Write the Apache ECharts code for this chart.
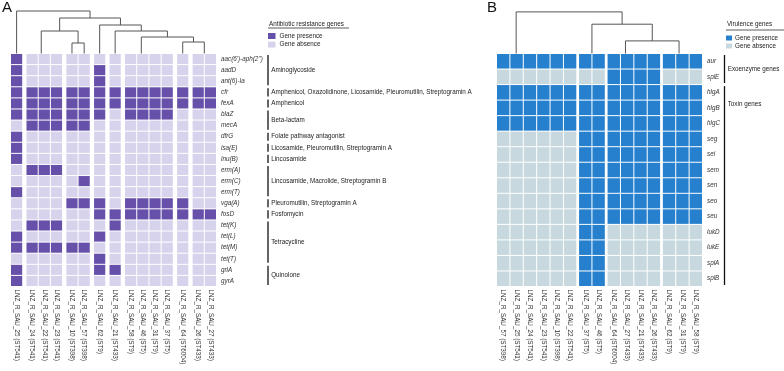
<!DOCTYPE html>
<html>
<head>
<meta charset="utf-8">
<script src="https://cdn.jsdelivr.net/npm/echarts@6/dist/echarts.min.js"></script>
<style>
  html, body { margin: 0; background: #fff; }
  #chart { width: 784px; height: 371px; }
</style>
</head>
<body>
<div id="chart"></div>
<script>
const FONT = '"Liberation Sans", Arial, sans-serif'

// ---------- panel A: antibiotic resistance genes ----------
const resStrains = [
  'LNZ_R_SAU_25 (ST541)', 'LNZ_R_SAU_24 (ST541)', 'LNZ_R_SAU_22 (ST541)', 'LNZ_R_SAU_23 (ST541)',
  'LNZ_R_SAU_10 (ST398)', 'LNZ_R_SAU_57 (ST398)', 'LNZ_R_SAU_62 (ST9)', 'LNZ_R_SAU_21 (ST433)',
  'LNZ_R_SAU_58 (ST9)', 'LNZ_R_SAU_46 (ST5)', 'LNZ_R_SAU_31 (ST9)', 'LNZ_R_SAU_37 (ST5)',
  'LNZ_R_SAU_64 (ST6004)', 'LNZ_R_SAU_26 (ST433)', 'LNZ_R_SAU_27 (ST433)'
]
const resBlocks = [1, 3, 2, 1, 1, 4, 1, 2] // strains per cluster block
const resGenes = [
  "aac(6')-aph(2'')", 'aadD', 'ant(6)-Ia', 'cfr', 'fexA', 'blaZ', 'mecA', 'dfrG', 'lsa(E)', 'lnu(B)',
  'erm(A)', 'erm(C)', 'erm(T)', 'vga(A)', 'fosD', 'tet(K)', 'tet(L)', 'tet(M)', 'tet(T)', 'grlA', 'gyrA'
]
// one string per gene, one digit per strain (1 = presence)
const resMatrix = [
  '100000000000000',
  '100000100000000',
  '100000100000000',
  '111111111111111',
  '111111111111111',
  '111111101111000',
  '011111000000000',
  '100000000000000',
  '100000000000000',
  '100000000000000',
  '011100000000000',
  '000001000000000',
  '100000000000000',
  '000011101111100',
  '000000111111111',
  '011100010000000',
  '100000100000000',
  '111111000000000',
  '000000100000000',
  '100000110000000',
  '100000000000000'
]
const resClasses = [
  'Aminoglycoside', 'Amphenicol, Oxazolidinone, Licosamide, Pleuromutilin, Streptogramin A', 'Amphenicol',
  'Beta-lactam', 'Folate pathway antagonist', 'Licosamide, Pleuromutilin, Streptogramin A', 'Lincosamide',
  'Lincosamide, Macrolide, Streptogramin B', 'Pleuromutilin, Streptogramin A', 'Fosfomycin', 'Tetracycline', 'Quinolone'
]
const resClassRows = [[0, 2], [3, 3], [4, 4], [5, 6], [7, 7], [8, 8], [9, 9], [10, 12], [13, 13], [14, 14], [15, 18], [19, 20]]
// linkage: [childA, childB, height]; leaves are 0..14, merges get ids 15, 16, ...
const resLinkage = [
  [2, 3, 0], [1, 15, 0], [10, 11, 0], [9, 17, 0], [8, 18, 0], [13, 14, 0],
  [4, 5, 10.5], [16, 21, 22.5], [12, 20, 11.5], [19, 23, 16.5], [7, 24, 22.5],
  [6, 25, 28.5], [22, 26, 35.5], [0, 27, 42.5]
]

// ---------- panel B: virulence genes ----------
const virStrains = [
  'LNZ_R_SAU_57 (ST398)', 'LNZ_R_SAU_25 (ST541)', 'LNZ_R_SAU_24 (ST541)', 'LNZ_R_SAU_23 (ST541)',
  'LNZ_R_SAU_10 (ST398)', 'LNZ_R_SAU_22 (ST541)', 'LNZ_R_SAU_37 (ST5)', 'LNZ_R_SAU_46 (ST5)',
  'LNZ_R_SAU_64 (ST6004)', 'LNZ_R_SAU_27 (ST433)', 'LNZ_R_SAU_21 (ST433)', 'LNZ_R_SAU_26 (ST433)',
  'LNZ_R_SAU_62 (ST9)', 'LNZ_R_SAU_31 (ST9)', 'LNZ_R_SAU_58 (ST9)'
]
const virBlocks = [6, 2, 4, 3]
const virGenes = ['aur', 'splE', 'hlgA', 'hlgB', 'hlgC', 'seg', 'sei', 'sem', 'sen', 'seo', 'seu', 'lukD', 'lukE', 'splA', 'splB']
const virMatrix = [
  '111111111111111',
  '000000001111000',
  '111111111111111',
  '111111111111111',
  '111111111111111',
  '000000111111111',
  '000000111111111',
  '000000111111111',
  '000000111111111',
  '000000111111111',
  '000000111111111',
  '000000110000000',
  '000000110000000',
  '000000110000000',
  '000000110000000'
]
const virClasses = ['Exoenzyme genes', 'Toxin genes']
const virClassRows = [[0, 1], [2, 14]]
const virLinkage = [
  [4, 5, 0], [3, 15, 0], [2, 16, 0], [1, 17, 0], [0, 18, 0],
  [6, 7, 0],
  [10, 11, 0], [9, 21, 0], [8, 22, 0],
  [13, 14, 0], [12, 24, 0],
  [23, 25, 12.6], [20, 26, 29.3], [19, 27, 41.6]
]

// ---------- helpers ----------
function blockCenters(blocks, gap) {
  const xs = []
  let x = 0
  blocks.forEach((n) => {
    for (let i = 0; i < n; i++) { xs.push(x + 0.5); x += 1 }
    x += gap
  })
  return { centers: xs, total: x - gap }
}

function matrixCells(matrix, centers) {
  const out = []
  matrix.forEach((row, r) => {
    row.split('').forEach((ch, c) => out.push([centers[c], r, Number(ch)]))
  })
  return out
}

function dendroSegments(linkage, centers) {
  const xs = centers.slice()
  const hs = centers.map(() => 0)
  const segs = []
  linkage.forEach(([a, b, h]) => {
    xs.push((xs[a] + xs[b]) / 2)
    hs.push(h)
    if (h > 0) segs.push({ coords: [[xs[a], hs[a]], [xs[a], h], [xs[b], h], [xs[b], hs[b]]] })
  })
  return segs
}

function renderCell(params, api) {
  const x = api.value(0)
  const r = api.value(1)
  const a = api.coord([x - 0.5, r])
  const b = api.coord([x + 0.5, r])
  const h = api.size([0, 1])[1]
  return {
    type: 'rect',
    shape: { x: a[0] + 0.5, y: a[1] - h / 2 + 0.5, width: b[0] - a[0] - 1, height: h - 1 },
    style: { fill: api.visual('color') }
  }
}

function bracketRenderer(names, lineOffset, labelTop) {
  return function (params, api) {
    const s = api.value(0)
    const e = api.value(1)
    const h = api.size([0, 1])[1]
    const top = api.coord([0, s])[1] - h / 2
    const bottom = api.coord([0, e])[1] + h / 2
    const x = params.coordSys.x + params.coordSys.width + lineOffset
    const multi = e - s > 6
    const ty = labelTop && multi ? top + h * 1.25 : (top + bottom) / 2
    return {
      type: 'group',
      children: [
        { type: 'line', shape: { x1: x, y1: top + 1.5, x2: x, y2: bottom - 1.5 }, style: { stroke: '#111', lineWidth: 1.3 } },
        { type: 'text', x: x + 3.2, y: ty, style: { text: names[params.dataIndex], fill: '#222', font: '6.3px ' + FONT, align: 'left', verticalAlign: 'middle' } }
      ]
    }
  }
}

const labelAt = (v, centers, names) => {
  const i = centers.findIndex((c) => Math.abs(c - v) < 1e-6)
  return i < 0 ? '' : names[i]
}

const A = blockCenters(resBlocks, 0.27)
const B = blockCenters(virBlocks, 0.13)

const HEAT_TOP = 53.5
const HEAT_H = 233
const gridA = { left: 10.5, width: 206 }
const gridB = { left: 496.5, width: 206 }

const hiddenValue = (gridIndex, max) => ({
  gridIndex, type: 'value', min: 0, max, show: false
})

const stripAxis = {
  axisLine: { show: false }, axisTick: { show: false }, splitLine: { show: false }
}

const colLabel = (centers, names) => ({
  customValues: centers,
  formatter: (v) => labelAt(v, centers, names),
  rotate: -90, fontSize: 6.3, color: '#333', margin: 3, fontFamily: FONT
})

const rowLabel = { fontSize: 6.3, fontStyle: 'italic', color: '#333', margin: 4.5, fontFamily: FONT }

const chart = echarts.init(document.getElementById('chart'))

chart.setOption({
  animation: false,
  backgroundColor: '#fff',
  title: [
    { text: 'A', left: 2, top: 0, padding: 0, textStyle: { fontSize: 15, fontWeight: 'normal', color: '#111', fontFamily: FONT } },
    { text: 'B', left: 487, top: 0, padding: 0, textStyle: { fontSize: 15, fontWeight: 'normal', color: '#111', fontFamily: FONT } },
    { text: 'Antibiotic resistance genes', left: 269, top: 21.5, padding: 0, textStyle: { fontSize: 6.3, fontWeight: 'normal', color: '#222', fontFamily: FONT } },
    { text: 'Virulence genes', left: 727, top: 21.5, padding: 0, textStyle: { fontSize: 6.3, fontWeight: 'normal', color: '#222', fontFamily: FONT } }
  ],
  graphic: [
    { type: 'line', shape: { x1: 268, y1: 28, x2: 349, y2: 28 }, style: { stroke: '#333', lineWidth: 0.8 } },
    { type: 'line', shape: { x1: 726, y1: 30, x2: 784, y2: 30 }, style: { stroke: '#333', lineWidth: 0.8 } }
  ],
  visualMap: [
    {
      type: 'piecewise', seriesIndex: 0, dimension: 2, selectedMode: false, align: 'left',
      left: 268, top: 33, orient: 'vertical', padding: 0,
      itemWidth: 7.5, itemHeight: 6, itemGap: 2.6, textGap: 4, itemSymbol: 'rect',
      textStyle: { fontSize: 6.3, color: '#222', fontFamily: FONT },
      pieces: [
        { value: 1, label: 'Gene presence', color: '#6650A9' },
        { value: 0, label: 'Gene absence', color: '#D8D3EC' }
      ]
    },
    {
      type: 'piecewise', seriesIndex: 1, dimension: 2, selectedMode: false, align: 'left',
      left: 726, top: 35, orient: 'vertical', padding: 0,
      itemWidth: 6, itemHeight: 5, itemGap: 2, textGap: 3, itemSymbol: 'rect',
      textStyle: { fontSize: 6.3, color: '#222', fontFamily: FONT },
      pieces: [
        { value: 1, label: 'Gene presence', color: '#2680CE' },
        { value: 0, label: 'Gene absence', color: '#C7D9DE' }
      ]
    }
  ],
  grid: [
    { left: gridA.left, width: gridA.width, top: 0, height: HEAT_TOP },
    { left: gridA.left, width: gridA.width, top: HEAT_TOP, height: HEAT_H },
    { left: gridB.left, width: gridB.width, top: 0, height: HEAT_TOP },
    { left: gridB.left, width: gridB.width, top: HEAT_TOP, height: HEAT_H }
  ],
  xAxis: [
    hiddenValue(0, A.total),
    { gridIndex: 1, type: 'value', min: 0, max: A.total, ...stripAxis, axisLabel: colLabel(A.centers, resStrains) },
    hiddenValue(2, B.total),
    { gridIndex: 3, type: 'value', min: 0, max: B.total, ...stripAxis, axisLabel: colLabel(B.centers, virStrains) }
  ],
  yAxis: [
    hiddenValue(0, HEAT_TOP),
    { gridIndex: 1, type: 'category', data: resGenes, inverse: true, position: 'right', ...stripAxis, axisLabel: rowLabel },
    hiddenValue(2, HEAT_TOP),
    { gridIndex: 3, type: 'category', data: virGenes, inverse: true, position: 'right', ...stripAxis, axisLabel: rowLabel }
  ],
  series: [
    { type: 'custom', xAxisIndex: 1, yAxisIndex: 1, renderItem: renderCell, data: matrixCells(resMatrix, A.centers) },
    { type: 'custom', xAxisIndex: 3, yAxisIndex: 3, renderItem: renderCell, data: matrixCells(virMatrix, B.centers) },
    {
      type: 'lines', coordinateSystem: 'cartesian2d', xAxisIndex: 0, yAxisIndex: 0, polyline: true, silent: true,
      lineStyle: { color: '#555', width: 1, opacity: 1 }, data: dendroSegments(resLinkage, A.centers)
    },
    {
      type: 'lines', coordinateSystem: 'cartesian2d', xAxisIndex: 2, yAxisIndex: 2, polyline: true, silent: true,
      lineStyle: { color: '#555', width: 1, opacity: 1 }, data: dendroSegments(virLinkage, B.centers)
    },
    { type: 'custom', xAxisIndex: 1, yAxisIndex: 1, silent: true, renderItem: bracketRenderer(resClasses, 51.5, false), data: resClassRows },
    { type: 'custom', xAxisIndex: 3, yAxisIndex: 3, silent: true, renderItem: bracketRenderer(virClasses, 22, true), data: virClassRows }
  ]
})
</script>
</body>
</html>
